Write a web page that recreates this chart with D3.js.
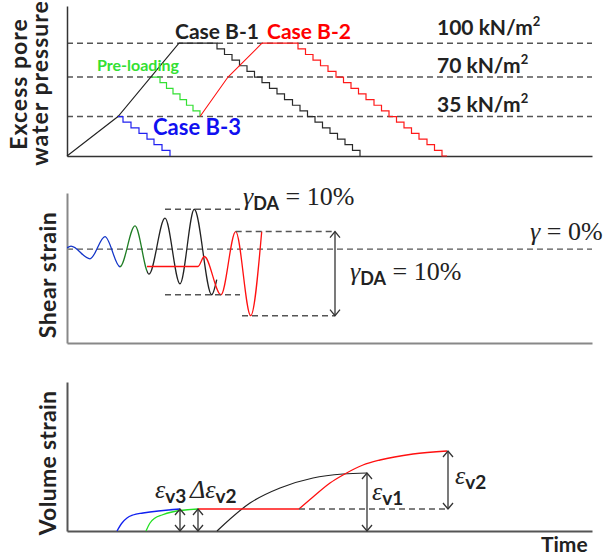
<!DOCTYPE html>
<html>
<head>
<meta charset="utf-8">
<script src="https://cdn.jsdelivr.net/npm/d3@7"></script>
<style>
  body { margin: 0; background: #fff; }
  svg { display: block; }
</style>
</head>
<body>
<svg id="chart" width="614" height="557"></svg>
<script>
// ---------- data ----------
// shared time axis (arbitrary units), one value scale per panel
const timeDomain = [0, 525];
const pressureDomain = [0, 133];      // excess pore water pressure, kN/m2
const shearDomain = [-11.2, 6.7];     // shear strain, %
const volumeDomain = [0, 14.9];       // volume strain, arbitrary units

const loadLevels = [100, 70, 35];
const loadLabels = ["100 kN/m", "70 kN/m", "35 kN/m"];

// excess pore water pressure paths [time, kN/m2]
const b1Load = [[0, 0], [51, 35], [112, 100]];
const b1Unload = [[112, 100], [150, 95], [157.5, 90], [165, 85], [172.5, 80], [180, 75],
  [187.5, 70], [195, 65], [202.5, 60], [210, 55], [217.5, 50], [225.5, 45], [233, 40],
  [240.5, 35], [248, 30], [255.5, 25], [263, 20], [270.5, 15], [278, 10], [285.5, 5], [293, 0]];
const b3Unload = [[51, 35], [56, 30], [64, 25], [72, 20], [80, 15], [87, 10], [95, 5], [103, 0]];
const preUnload = [[85, 70], [93, 65], [99.5, 60], [106, 55], [113, 50], [119.5, 45], [126, 40], [133, 35]];
const b2Load = [[133, 35], [161, 70], [195, 100]];
const b2Unload = [[195, 100], [231, 95], [238.5, 90], [246, 85], [253.5, 80], [261, 75],
  [269, 70], [276.5, 65], [284, 60], [291.5, 55], [299, 50], [307, 45], [314.5, 40],
  [322, 35], [329.5, 30], [337, 25], [344.5, 20], [352, 15], [360, 10], [367.5, 5], [375, 0], [380, 0]];

// shear strain histories [time, %]
const waveB1 = [[0, 0.15], [4, 0.35], [23, -1.15], [38, 1.5], [53, -2.1], [68, 2.77],
  [82, -2.97], [98, 3.7], [113, -4.13], [127.3, 4.76], [144.7, -5.44], [149.7, -3.65]];
const waveB2 = [[80, -2.07], [131, -2.07], [137.3, -0.88], [154, -5.44], [168.7, 2.1],
  [183.7, -7.94], [194.7, 2.1]];
const waveColors = [
  { from: 0, to: 53, color: "#1234c8" },
  { from: 53, to: 80, color: "#1f7d24" },
  { from: 80, to: 525, color: "#222" }
];
const b1Amp = { t0: 98, t1: 173, hi: 4.76, lo: -5.44 };
const b2Amp = { t0: 168.7, t0lo: 175, t1: 268, hi: 2.1, lo: -7.94 };

// volume strain histories [time, value]
const volB3 = [[50, 0], [55, 0.8], [60, 1.3], [66, 1.6], [76, 1.8], [113, 2.2]];
const volPre = [[79, 0], [83, 0.8], [88, 1.3], [95, 1.6], [105, 1.9], [131, 2.2]];
const volB2Flat = [[131, 2.2], [232, 2.2]];
const volB2 = [[232, 2.2], [246, 3.4], [263, 4.8], [276, 5.6], [296, 6.6], [313, 7.1], [346, 7.7], [380, 8.0]];
const volB1 = [[150, 0], [183, 2.8], [213, 4.3], [246, 5.3], [276, 5.7], [300, 5.8]];

// ---------- scales ----------
const svg = d3.select("#chart");
const x = d3.scaleLinear().domain(timeDomain).range([67, 592]);
const yP = d3.scaleLinear().domain(pressureDomain).range([156, 6]);
const yS = d3.scaleLinear().domain(shearDomain).range([343, 193]);
const yV = d3.scaleLinear().domain(volumeDomain).range([531, 382]);

const SANS = "Lato, 'Open Sans', sans-serif";
const SERIF = "'Liberation Serif', 'DejaVu Serif', serif";

function drawAxes(y, color, width) {
  const gx = svg.append("g").attr("transform", `translate(0,${y.range()[0]})`)
    .call(d3.axisBottom(x).tickValues([]).tickSizeOuter(0));
  const gy = svg.append("g").attr("transform", `translate(${x.range()[0]},0)`)
    .call(d3.axisLeft(y).tickValues([]).tickSizeOuter(0));
  [gx, gy].forEach(g => g.select(".domain").attr("stroke", color).attr("stroke-width", width));
}

function hDash(y, v, t0, t1, color = "#555") {
  svg.append("line")
    .attr("x1", x(t0)).attr("x2", x(t1)).attr("y1", y(v)).attr("y2", y(v))
    .attr("stroke", color).attr("stroke-width", 1.4).attr("stroke-dasharray", "6,4");
}

function doubleArrow(y, t, v0, v1) {
  const xx = x(t), ya = y(v1), yb = y(v0);
  const g = svg.append("g").attr("stroke", "#333").attr("stroke-width", 1.3).attr("fill", "none");
  g.append("line").attr("x1", xx).attr("x2", xx).attr("y1", ya).attr("y2", yb);
  g.append("path").attr("d", `M${xx - 5},${ya + 6}L${xx},${ya}L${xx + 5},${ya + 6}`);
  g.append("path").attr("d", `M${xx - 5},${yb - 6}L${xx},${yb}L${xx + 5},${yb - 6}`);
}

function pathOf(y, data, curve, color, width) {
  svg.append("path")
    .attr("d", d3.line().x(d => x(d[0])).y(d => y(d[1])).curve(curve)(data))
    .attr("fill", "none").attr("stroke", color).attr("stroke-width", width)
    .attr("stroke-linejoin", "miter");
}

// ---------- panel 1: excess pore water pressure ----------
loadLevels.forEach(v => hDash(yP, v, timeDomain[0], timeDomain[1]));
drawAxes(yP, "#333", 1.5);

pathOf(yP, b1Load, d3.curveLinear, "#222", 1.1);
pathOf(yP, b1Unload, d3.curveStepAfter, "#2a2a2a", 1.2);
pathOf(yP, b3Unload, d3.curveStepAfter, "#2020f0", 1.2);
pathOf(yP, preUnload, d3.curveStepAfter, "#33e033", 1.2);
pathOf(yP, b2Load, d3.curveLinear, "#ff1010", 1.1);
pathOf(yP, b2Unload, d3.curveStepAfter, "#ff1a1a", 1.2);

function label(xp, yp, txt, color, size) {
  svg.append("text").attr("x", xp).attr("y", yp).text(txt)
    .attr("fill", color).attr("font-family", SANS).attr("font-weight", 700)
    .attr("font-size", size);
}
label(175, 39, "Case B-1", "#222", 21);
label(267, 39, "Case B-2", "#ff0000", 21);
label(97, 71, "Pre-loading", "#33e033", 16);
label(153, 135, "Case B-3", "#1010f0", 22);

const levelBaselines = [35, 73, 112];
loadLabels.forEach((s, i) => {
  const t = svg.append("text").attr("x", 437).attr("y", levelBaselines[i])
    .attr("fill", "#222").attr("font-family", SANS).attr("font-weight", 700).attr("font-size", 21);
  t.append("tspan").text(s);
  t.append("tspan").text("2").attr("font-size", 13).attr("dy", -9);
});

// ---------- panel 2: shear strain ----------
hDash(yS, 0, timeDomain[0], timeDomain[1]);
drawAxes(yS, "#888", 2);

const defs = svg.append("defs");
waveColors.forEach((seg, i) => {
  defs.append("clipPath").attr("id", "wave-seg-" + i)
    .append("rect").attr("x", x(seg.from)).attr("width", x(seg.to) - x(seg.from))
    .attr("y", 0).attr("height", 557);
});
const waveLine = d3.line().x(d => x(d[0])).y(d => yS(d[1])).curve(d3.curveMonotoneX);
waveColors.forEach((seg, i) => {
  svg.append("path").attr("d", waveLine(waveB1)).attr("clip-path", `url(#wave-seg-${i})`)
    .attr("fill", "none").attr("stroke", seg.color).attr("stroke-width", 1.3);
});
svg.append("path").attr("d", waveLine(waveB2))
  .attr("fill", "none").attr("stroke", "#ff1010").attr("stroke-width", 1.3);

hDash(yS, b1Amp.hi, b1Amp.t0, b1Amp.t1);
hDash(yS, b1Amp.lo, b1Amp.t0, b1Amp.t1);
hDash(yS, b2Amp.hi, b2Amp.t0, b2Amp.t1);
hDash(yS, b2Amp.lo, b2Amp.t0lo, b2Amp.t1);
doubleArrow(yS, b2Amp.t1, b2Amp.lo, b2Amp.hi);

function gammaLabel(xp, yp) {
  const t = svg.append("text").attr("x", xp).attr("y", yp).attr("fill", "#222");
  t.append("tspan").text("γ").attr("font-family", SERIF).attr("font-style", "italic").attr("font-size", 26);
  t.append("tspan").text("DA").attr("font-family", SANS).attr("font-weight", 700).attr("font-size", 18).attr("dy", 5);
  t.append("tspan").text(" = 10%").attr("font-family", SERIF).attr("font-size", 26).attr("dy", -5);
}
gammaLabel(243, 205);
gammaLabel(350, 280);
{
  const t = svg.append("text").attr("x", 530).attr("y", 240).attr("fill", "#222")
    .attr("font-family", SERIF).attr("font-size", 26);
  t.append("tspan").text("γ").attr("font-style", "italic");
  t.append("tspan").text(" = 0%");
}

// ---------- panel 3: volume strain ----------
drawAxes(yV, "#555", 2);
pathOf(yV, volB1, d3.curveMonotoneX, "#222", 1.2);
pathOf(yV, volB3, d3.curveMonotoneX, "#1020f0", 1.3);
pathOf(yV, volPre, d3.curveMonotoneX, "#22e022", 1.3);
pathOf(yV, volB2Flat, d3.curveLinear, "#ff1010", 1.3);
pathOf(yV, volB2, d3.curveMonotoneX, "#ff1010", 1.3);
hDash(yV, 2.2, 232, 381);

doubleArrow(yV, 113, 0, 2.2);
doubleArrow(yV, 131, 0, 2.2);
doubleArrow(yV, 300, 0, 5.8);
doubleArrow(yV, 381, 2.2, 8.0);

function epsLabel(xp, yp, pre, sub) {
  const t = svg.append("text").attr("x", xp).attr("y", yp).attr("fill", "#222");
  t.append("tspan").text(pre).attr("font-family", SERIF).attr("font-style", "italic").attr("font-size", 26);
  t.append("tspan").text(sub).attr("font-family", SANS).attr("font-weight", 700).attr("font-size", 19).attr("dy", 5);
}
epsLabel(155, 498, "ε", "v3");
epsLabel(190, 498, "Δε", "v2");
epsLabel(372, 500, "ε", "v1");
epsLabel(455, 484, "ε", "v2");

label(541, 552, "Time", "#222", 21);

// ---------- y-axis titles ----------
function yTitle(xp, yc, txt, size, spacing) {
  svg.append("text").attr("transform", `translate(${xp},${yc}) rotate(-90)`)
    .attr("text-anchor", "middle").text(txt)
    .attr("fill", "#222").attr("font-family", SANS).attr("font-weight", 700)
    .attr("font-size", size).attr("letter-spacing", spacing);
}
yTitle(27, 84, "Excess pore", 23, 1);
yTitle(48, 83, "water pressure", 23, 1);
yTitle(56, 275, "Shear strain", 23, 0.5);
yTitle(56, 463, "Volume strain", 23, 0.3);
</script>
</body>
</html>
